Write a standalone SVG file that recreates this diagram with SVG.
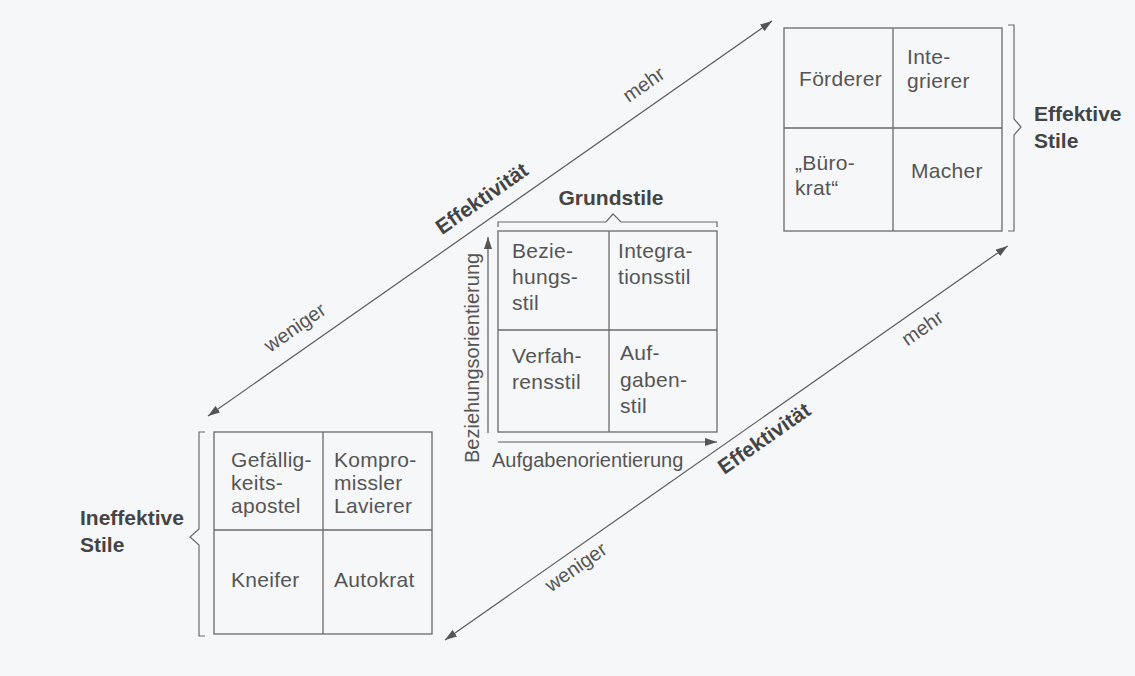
<svg xmlns="http://www.w3.org/2000/svg" width="1135" height="676" viewBox="0 0 1135 676">
  <defs>
    <marker id="head" viewBox="0 0 12 8" refX="12" refY="4" markerWidth="12" markerHeight="8" markerUnits="userSpaceOnUse" orient="auto-start-reverse">
      <path d="M0,0 L12,4 L0,8 Z" fill="#555"/>
    </marker>
    <style>
      .grid { fill: none; stroke: #6a6a6a; stroke-width: 1.3; }
      .brace { fill: none; stroke: #6a6a6a; stroke-width: 1.2; }
      .axis { fill: none; stroke: #5a5a5a; stroke-width: 1.2; }
      .cell { font-family: "Liberation Sans", Arial, sans-serif; font-size: 21px; letter-spacing: 0.3px; fill: #555; }
      .lbl { font-family: "Liberation Sans", Arial, sans-serif; font-size: 20px; fill: #555; }
      .bold { font-family: "Liberation Sans", Arial, sans-serif; font-size: 21px; font-weight: bold; fill: #444; }
    </style>
  </defs>

  <rect width="1135" height="676" fill="#f6f7f9"/>

  <!-- connectors: the two effectiveness axes -->
  <g id="connectors">
    <g id="axis-upper" transform="translate(208,416) rotate(-35)">
      <line class="axis" x1="0" y1="0" x2="688.6" y2="0" marker-start="url(#head)" marker-end="url(#head)"/>
      <text class="lbl" x="122" y="-16" text-anchor="middle">weniger</text>
      <text class="bold" x="349" y="-14" text-anchor="middle">Effektivität</text>
      <text class="lbl" x="547" y="-15" text-anchor="middle">mehr</text>
    </g>
    <g id="axis-lower" transform="translate(445,640) rotate(-35)">
      <line class="axis" x1="0" y1="0" x2="686.9" y2="0" marker-start="url(#head)" marker-end="url(#head)"/>
      <text class="lbl" x="149" y="22" text-anchor="middle">weniger</text>
      <text class="bold" x="377" y="25" text-anchor="middle">Effektivität</text>
      <text class="lbl" x="570" y="25" text-anchor="middle">mehr</text>
    </g>
  </g>

  <!-- effective styles -->
  <g id="effektive-stile">
    <rect class="grid" x="784" y="28" width="218" height="203"/>
    <line class="grid" x1="893" y1="28" x2="893" y2="231"/>
    <line class="grid" x1="784" y1="128" x2="1002" y2="128"/>
    <text class="cell" x="799" y="86">Förderer</text>
    <text class="cell" x="907" y="64">Inte-</text>
    <text class="cell" x="907" y="88">grierer</text>
    <text class="cell" x="795" y="170">„Büro-</text>
    <text class="cell" x="795" y="195">krat“</text>
    <text class="cell" x="911" y="178">Macher</text>
    <path class="brace" d="M1008,25 H1014 V119 L1021,127 L1014,135 V231 H1008"/>
    <text class="bold" x="1034" y="121">Effektive</text>
    <text class="bold" x="1034" y="148">Stile</text>
  </g>

  <!-- basic styles -->
  <g id="grundstile">
    <text class="bold" x="611" y="205" text-anchor="middle">Grundstile</text>
    <path class="brace" d="M498,227 V222 H606 L613,214 L621,222 H717 V227"/>
    <rect class="grid" x="498" y="231" width="219" height="201"/>
    <line class="grid" x1="609" y1="231" x2="609" y2="432"/>
    <line class="grid" x1="498" y1="330" x2="717" y2="330"/>
    <text class="cell" x="512" y="258">Bezie-</text>
    <text class="cell" x="512" y="284">hungs-</text>
    <text class="cell" x="512" y="310">stil</text>
    <text class="cell" x="618" y="258">Integra-</text>
    <text class="cell" x="618" y="284">tionsstil</text>
    <text class="cell" x="512" y="363">Verfah-</text>
    <text class="cell" x="512" y="389">rensstil</text>
    <text class="cell" x="620" y="360">Auf-</text>
    <text class="cell" x="620" y="387">gaben-</text>
    <text class="cell" x="620" y="413">stil</text>
    <line class="axis" x1="488" y1="433" x2="488" y2="237" marker-end="url(#head)"/>
    <line class="axis" x1="498" y1="442" x2="717" y2="442" marker-end="url(#head)"/>
    <text class="lbl" transform="translate(479,463) rotate(-90)">Beziehungsorientierung</text>
    <text class="lbl" x="492" y="467">Aufgabenorientierung</text>
  </g>

  <!-- ineffective styles -->
  <g id="ineffektive-stile">
    <rect class="grid" x="214" y="432" width="218" height="202"/>
    <line class="grid" x1="323" y1="432" x2="323" y2="634"/>
    <line class="grid" x1="214" y1="530" x2="432" y2="530"/>
    <text class="cell" x="231" y="467">Gefällig-</text>
    <text class="cell" x="231" y="490">keits-</text>
    <text class="cell" x="231" y="513">apostel</text>
    <text class="cell" x="334" y="467">Kompro-</text>
    <text class="cell" x="334" y="490">missler</text>
    <text class="cell" x="334" y="513">Lavierer</text>
    <text class="cell" x="231" y="587">Kneifer</text>
    <text class="cell" x="334" y="587">Autokrat</text>
    <path class="brace" d="M205,432 H199 V529 L190,537 L199,545 V636 H205"/>
    <text class="bold" x="80" y="525">Ineffektive</text>
    <text class="bold" x="80" y="552">Stile</text>
  </g>
</svg>
